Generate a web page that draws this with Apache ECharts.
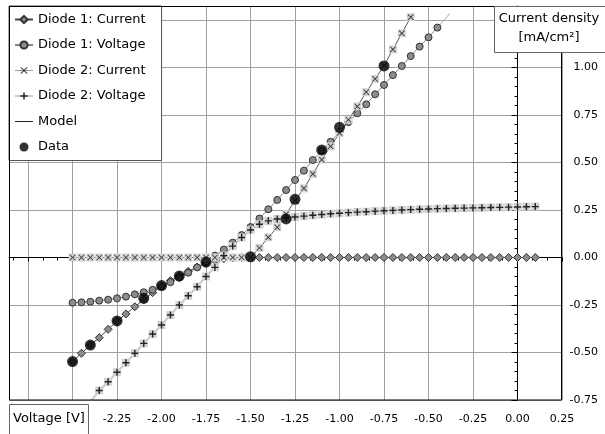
<!DOCTYPE html>
<html><head><meta charset="utf-8">
<script src="https://cdn.jsdelivr.net/npm/echarts@6/dist/echarts.min.js"></script>
<style>html,body{margin:0;padding:0;background:#fff}#c{width:605px;height:434px}</style>
</head><body><div id="c"></div>
<script>
const xTicks = [-2.25,-2.00,-1.75,-1.50,-1.25,-1.00,-0.75,-0.50,-0.25,0.00,0.25];
const yTicks = [-0.75,-0.50,-0.25,0.00,0.25,0.50,0.75,1.00];

const diode1Current = [[-2.5,-0.548],[-2.45,-0.504],[-2.4,-0.461],[-2.35,-0.422],[-2.3,-0.378],[-2.25,-0.335],[-2.2,-0.297],[-2.15,-0.259],[-2.1,-0.222],[-2.05,-0.185],[-2.0,-0.150],[-1.95,-0.122],[-1.9,-0.097],[-1.85,-0.073],[-1.8,-0.050],[-1.75,-0.030],[-1.7,-0.016],[-1.65,-0.007],[-1.6,-0.002],[-1.55,0],[-1.5,0],[-1.45,0],[-1.4,0],[-1.35,0],[-1.3,0],[-1.25,0],[-1.2,0],[-1.15,0],[-1.1,0],[-1.05,0],[-1.0,0],[-0.95,0],[-0.9,0],[-0.85,0],[-0.8,0],[-0.75,0],[-0.7,0],[-0.65,0],[-0.6,0],[-0.55,0],[-0.5,0],[-0.45,0],[-0.4,0],[-0.35,0],[-0.3,0],[-0.25,0],[-0.2,0],[-0.15,0],[-0.1,0],[-0.05,0],[0.0,0],[0.05,0],[0.1,0]];

const diode1Voltage = [[-2.5,-0.238],[-2.45,-0.236],[-2.4,-0.233],[-2.35,-0.227],[-2.3,-0.222],[-2.25,-0.215],[-2.2,-0.206],[-2.15,-0.194],[-2.1,-0.183],[-2.05,-0.170],[-2.0,-0.152],[-1.95,-0.130],[-1.9,-0.106],[-1.85,-0.080],[-1.8,-0.052],[-1.75,-0.022],[-1.7,0.010],[-1.65,0.042],[-1.6,0.078],[-1.55,0.118],[-1.5,0.160],[-1.45,0.205],[-1.4,0.254],[-1.35,0.303],[-1.3,0.355],[-1.25,0.408],[-1.2,0.457],[-1.15,0.513],[-1.1,0.562],[-1.05,0.609],[-1.0,0.660],[-0.95,0.713],[-0.9,0.759],[-0.85,0.806],[-0.8,0.859],[-0.75,0.908],[-0.7,0.960],[-0.65,1.008],[-0.6,1.060],[-0.55,1.110],[-0.5,1.159],[-0.45,1.210]];

const diode2Current = [[-2.5,0],[-2.45,0],[-2.4,0],[-2.35,0],[-2.3,0],[-2.25,0],[-2.2,0],[-2.15,0],[-2.1,0],[-2.05,0],[-2.0,0],[-1.95,0],[-1.9,0],[-1.85,0],[-1.8,0],[-1.75,0],[-1.7,0],[-1.65,0],[-1.6,0],[-1.55,0],[-1.5,0],[-1.45,0.050],[-1.4,0.106],[-1.35,0.159],[-1.3,0.228],[-1.25,0.300],[-1.2,0.364],[-1.15,0.440],[-1.1,0.515],[-1.05,0.585],[-1.0,0.655],[-0.95,0.725],[-0.9,0.795],[-0.85,0.870],[-0.8,0.940],[-0.75,1.010],[-0.7,1.095],[-0.65,1.180],[-0.6,1.265]];

const diode2Voltage = [[-2.4,-0.76],[-2.35,-0.700],[-2.3,-0.654],[-2.25,-0.604],[-2.2,-0.554],[-2.15,-0.504],[-2.1,-0.452],[-2.05,-0.403],[-2.0,-0.355],[-1.95,-0.303],[-1.9,-0.250],[-1.85,-0.201],[-1.8,-0.154],[-1.75,-0.100],[-1.7,-0.052],[-1.65,0.010],[-1.6,0.060],[-1.55,0.105],[-1.5,0.145],[-1.45,0.175],[-1.4,0.193],[-1.35,0.203],[-1.3,0.208],[-1.25,0.213],[-1.2,0.218],[-1.15,0.222],[-1.1,0.226],[-1.05,0.230],[-1.0,0.233],[-0.95,0.236],[-0.9,0.239],[-0.85,0.241],[-0.8,0.244],[-0.75,0.246],[-0.7,0.248],[-0.65,0.250],[-0.6,0.252],[-0.55,0.254],[-0.5,0.255],[-0.45,0.257],[-0.4,0.258],[-0.35,0.259],[-0.3,0.260],[-0.25,0.261],[-0.2,0.262],[-0.15,0.263],[-0.1,0.264],[-0.05,0.265],[0.0,0.266],[0.05,0.267],[0.1,0.268]];

const modelExtension = [[-0.45,1.210],[-0.38,1.285]];

const dataPoints = [[-2.5,-0.548],[-2.4,-0.461],[-2.25,-0.334],[-2.1,-0.215],[-2.0,-0.148],[-1.9,-0.097],[-1.75,-0.024],[-1.5,0.004],[-1.3,0.203],[-1.25,0.306],[-1.1,0.566],[-1.0,0.685],[-0.75,1.008]];

const FONT = 'DejaVu Sans';
const CROSS = 'path://M0,1L1,0L5,4L9,0L10,1L6,5L10,9L9,10L5,6L1,10L0,9L4,5Z';
const PLUS = 'path://M4,0H6V4H10V6H6V10H4V6H0V4H4Z';

const chart = echarts.init(document.getElementById('c'), null, {renderer:'canvas'});
const X_MIN = -2.857, X_MAX = 0.25, Y_MIN = -0.75, Y_MAX = 1.3237;
const xBase = {type:'value', min:X_MIN, max:X_MAX, minInterval:0.25, maxInterval:0.25};
const yBase = {type:'value', min:Y_MIN, max:Y_MAX, minInterval:0.25, maxInterval:0.25};
const fmt = list => v => list.some(t=>Math.abs(t-v)<1e-6) ? v.toFixed(2) : '';

chart.setOption({
  animation:false,
  backgroundColor:'#fff',
  grid:{left:9, right:43, top:6, bottom:34, containLabel:false},
  xAxis:[
    Object.assign({}, xBase, {position:'bottom',
      axisLine:{show:false, onZero:false}, axisTick:{show:false},
      axisLabel:{show:true, interval:0, margin:14, color:'#000', fontFamily:FONT, fontSize:11,
        showMinLabel:true, showMaxLabel:true, formatter:fmt(xTicks)},
      splitLine:{show:true, lineStyle:{color:'#a0a0a0', width:1}}}),
    Object.assign({}, xBase, {position:'bottom', offset:-142.5,
      axisLine:{show:true, onZero:false, lineStyle:{color:'#000', width:1}},
      axisTick:{show:true, inside:false, length:4, lineStyle:{color:'#000'}},
      minorTick:{show:true, splitNumber:3, length:3, lineStyle:{color:'#000'}},
      axisLabel:{show:false}, splitLine:{show:false}})
  ],
  yAxis:[
    Object.assign({}, yBase, {position:'right',
      axisLine:{show:false, onZero:false}, axisTick:{show:false},
      axisLabel:{show:true, align:'right', margin:36, color:'#000', fontFamily:FONT, fontSize:11,
        formatter:fmt(yTicks)},
      splitLine:{show:true, lineStyle:{color:'#a0a0a0', width:1}}}),
    Object.assign({}, yBase, {position:'right', offset:-44.5,
      axisLine:{show:true, onZero:false, lineStyle:{color:'#000', width:1}},
      axisTick:{show:true, inside:true, length:6, lineStyle:{color:'#000'}},
      minorTick:{show:true, splitNumber:5, length:3, lineStyle:{color:'#000'}},
      axisLabel:{show:false}, splitLine:{show:false}})
  ],
  legend:{
    orient:'vertical', left:9, top:6, z:20,
    padding:[7,16,7,5], itemGap:12.5, itemWidth:18, itemHeight:9,
    backgroundColor:'#fff', borderColor:'#555', borderWidth:1, borderRadius:0,
    textStyle:{fontFamily:FONT, fontSize:13, color:'#000'},
    data:[
      {name:'Diode 1: Current'},
      {name:'Diode 1: Voltage'},
      {name:'Diode 2: Current', lineStyle:{color:'#999', width:1, opacity:1}},
      {name:'Diode 2: Voltage', lineStyle:{color:'#999', width:1, opacity:1}},
      {name:'Model', itemStyle:{opacity:0}, lineStyle:{color:'#222', width:1, opacity:1}},
      {name:'Data'}
    ]
  },
  graphic:[
    {type:'rect', z:51, silent:true, shape:{x:9.5,y:6.5,width:552,height:393.5}, style:{fill:null, stroke:'#000', lineWidth:1}},
    {type:'rect', z:60, silent:true, shape:{x:494.5,y:6.5,width:120,height:46}, style:{fill:'#fff', stroke:'#666', lineWidth:1}},
    {type:'text', z:61, silent:true, style:{x:549, y:19, text:'Current density', align:'center', verticalAlign:'middle', font:'13px "DejaVu Sans"', fill:'#000'}},
    {type:'text', z:61, silent:true, style:{x:549, y:38, text:'[mA/cm²]', align:'center', verticalAlign:'middle', font:'13px "DejaVu Sans"', fill:'#000'}},
    {type:'rect', z:60, silent:true, shape:{x:9.5,y:404.5,width:79,height:40}, style:{fill:'#fff', stroke:'#666', lineWidth:1}},
    {type:'text', z:61, silent:true, style:{x:13, y:419, text:'Voltage [V]', align:'left', verticalAlign:'middle', font:'13px "DejaVu Sans"', fill:'#000'}}
  ],
  series:[
    {name:'Model', type:'line', data:modelExtension, symbol:'none', z:2,
      lineStyle:{color:'#aaa', width:1}, itemStyle:{color:'#222'}},
    {name:'Diode 1: Current', type:'line', data:diode1Current, symbol:'diamond', symbolSize:8, z:3,
      lineStyle:{color:'#444', width:1}, itemStyle:{color:'#8c8c8c', borderColor:'#333', borderWidth:1}},
    {name:'Diode 1: Voltage', type:'line', data:diode1Voltage, symbol:'circle', symbolSize:7, z:3,
      lineStyle:{color:'#888', width:1}, itemStyle:{color:'#8c8c8c', borderColor:'#333', borderWidth:1}},
    {name:'d2c-bg', type:'line', data:diode2Current, symbol:'rect', symbolSize:8, z:3,
      lineStyle:{color:'#555', width:1}, itemStyle:{color:'#d2d2d2', borderWidth:0}},
    {name:'Diode 2: Current', type:'line', data:diode2Current, symbol:CROSS, symbolSize:6, z:4,
      lineStyle:{opacity:0}, itemStyle:{color:'#333'}},
    {name:'d2v-bg', type:'line', data:diode2Voltage, symbol:'rect', symbolSize:8, z:3,
      lineStyle:{color:'#c8c8c8', width:2}, itemStyle:{color:'#d2d2d2', borderWidth:0}},
    {name:'Diode 2: Voltage', type:'line', data:diode2Voltage, symbol:PLUS, symbolSize:7, z:4,
      lineStyle:{opacity:0}, itemStyle:{color:'#222'}},
    {name:'Data', type:'scatter', data:dataPoints, symbol:'circle', symbolSize:11, z:5,
      itemStyle:{color:'#000'}}
  ]
});
</script></body></html>
